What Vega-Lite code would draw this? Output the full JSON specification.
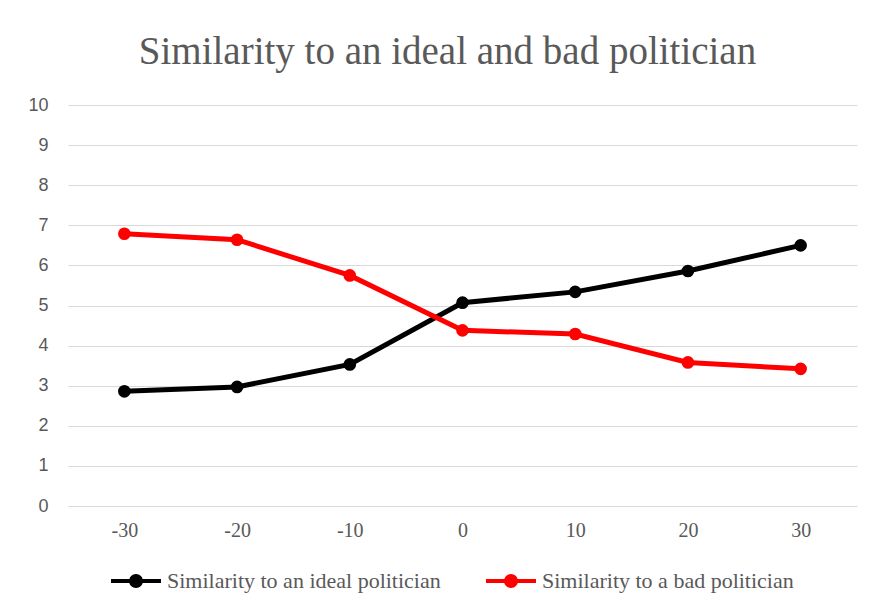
{
  "$schema": "https://vega.github.io/schema/vega-lite/v6.json",
  "width": 789,
  "height": 401,
  "autosize": {"type": "none"},
  "padding": {"left": 68, "top": 105, "right": 14, "bottom": 101},
  "background": "white",
  "title": {
    "text": "Similarity to an ideal and bad politician",
    "font": "Liberation Serif",
    "fontSize": 39,
    "fontWeight": "normal",
    "color": "#595959",
    "anchor": "middle",
    "baseline": "alphabetic",
    "offset": 37,
    "dx": -15,
    "dy": 44
  },
  "data": {
    "values": [
      {"x": -30, "series": "Similarity to an ideal politician", "value": 2.86},
      {"x": -20, "series": "Similarity to an ideal politician", "value": 2.97},
      {"x": -10, "series": "Similarity to an ideal politician", "value": 3.53},
      {"x": 0, "series": "Similarity to an ideal politician", "value": 5.07},
      {"x": 10, "series": "Similarity to an ideal politician", "value": 5.34},
      {"x": 20, "series": "Similarity to an ideal politician", "value": 5.86},
      {"x": 30, "series": "Similarity to an ideal politician", "value": 6.5},
      {"x": -30, "series": "Similarity to a bad politician", "value": 6.79},
      {"x": -20, "series": "Similarity to a bad politician", "value": 6.64},
      {"x": -10, "series": "Similarity to a bad politician", "value": 5.75},
      {"x": 0, "series": "Similarity to a bad politician", "value": 4.38},
      {"x": 10, "series": "Similarity to a bad politician", "value": 4.29},
      {"x": 20, "series": "Similarity to a bad politician", "value": 3.58},
      {"x": 30, "series": "Similarity to a bad politician", "value": 3.42}
    ]
  },
  "mark": {"type": "line", "strokeWidth": 5, "point": {"filled": true, "size": 160}},
  "encoding": {
    "x": {
      "field": "x",
      "type": "ordinal",
      "sort": [-30, -20, -10, 0, 10, 20, 30],
      "scale": {"padding": 0.5},
      "axis": {
        "title": null,
        "labelAngle": 0,
        "domain": false,
        "ticks": false,
        "grid": false,
        "labelFont": "Liberation Serif",
        "labelFontSize": 20,
        "labelColor": "#595959",
        "labelPadding": 14
      }
    },
    "y": {
      "field": "value",
      "type": "quantitative",
      "scale": {"domain": [0, 10], "nice": false},
      "axis": {
        "title": null,
        "values": [0, 1, 2, 3, 4, 5, 6, 7, 8, 9, 10],
        "domain": false,
        "ticks": false,
        "grid": true,
        "gridColor": "#d9d9d9",
        "gridWidth": 1.2,
        "labelFont": "Liberation Sans",
        "labelFontSize": 18,
        "labelColor": "#595959",
        "labelPadding": 20
      }
    },
    "color": {
      "field": "series",
      "type": "nominal",
      "sort": ["Similarity to an ideal politician", "Similarity to a bad politician"],
      "scale": {
        "domain": ["Similarity to an ideal politician", "Similarity to a bad politician"],
        "range": ["#000000", "#ff0000"]
      },
      "legend": {
        "title": null,
        "orient": "none",
        "legendX": 41,
        "legendY": 449,
        "direction": "horizontal",
        "symbolType": "M -1 0 L 1 0 M 0.2 0 A 0.2 0.2 0 1 1 -0.2 0 A 0.2 0.2 0 1 1 0.2 0 Z",
        "symbolSize": 2500,
        "symbolStrokeWidth": 4,
        "labelFont": "Liberation Serif",
        "labelFontSize": 22,
        "labelColor": "#595959",
        "labelOffset": 4,
        "labelLimit": 400,
        "columnPadding": 37,
        "encode": {
          "symbols": {"update": {"fill": {"scale": "color", "field": "value"}}}
        }
      }
    }
  },
  "config": {"view": {"stroke": null}}
}
